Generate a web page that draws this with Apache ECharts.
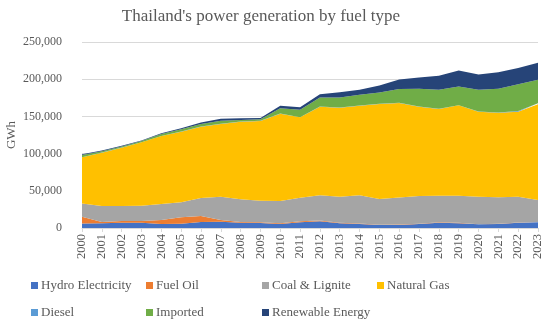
<!DOCTYPE html>
<html>
<head>
<meta charset="utf-8">
<script src="https://cdn.jsdelivr.net/npm/echarts@6/dist/echarts.min.js"></script>
<style>
html,body{margin:0;padding:0;background:#fff;}
#chart{width:550px;height:326px;}
</style>
</head>
<body>
<div id="chart"></div>
<script>
const years = ['2000','2001','2002','2003','2004','2005','2006','2007','2008','2009','2010','2011','2012','2013','2014','2015','2016','2017','2018','2019','2020','2021','2022','2023'];
const hydro     = [6000,6500,7000,7000,5400,5800,8100,8500,7200,6700,5300,7700,9000,6300,5400,4000,4200,5400,7200,6300,4900,5400,7200,7600];
const fuelOil   = [9000,1500,2400,2400,5400,8500,8000,2300,1000,900,1000,1300,1000,700,600,500,400,300,600,900,300,300,300,300];
const coal      = [18000,21600,20200,20600,21500,20200,24200,31300,30400,29100,30000,31500,33900,35100,37900,34500,36400,37300,35600,36200,36900,35500,34600,29700];
const gas       = [62000,71600,78400,85200,91300,95000,95900,97700,104300,107100,117400,108300,119100,119600,120500,127700,127000,120000,116600,121500,114200,113800,114100,128600];
const diesel    = [200,200,200,200,200,200,200,200,200,200,200,200,200,200,200,200,200,200,200,200,200,300,1000,1400];
const imported  = [2800,1600,1500,1500,2500,3000,3500,4000,2200,2300,7000,9800,12200,13500,14400,15200,18700,23800,25500,25000,29200,31800,35900,31700];
const renewable = [1200,1000,800,800,1200,1500,1900,2700,2300,1700,3300,3600,4500,7200,6700,9400,12700,15200,18800,21500,20500,22400,21900,22900];
const seriesNames = ['Hydro Electricity','Fuel Oil','Coal & Lignite','Natural Gas','Diesel','Imported','Renewable Energy'];
const seriesData = [hydro, fuelOil, coal, gas, diesel, imported, renewable];
const colors = ['#4472C4','#ED7D31','#A5A5A5','#FFC000','#5B9BD5','#70AD47','#264478'];
const yTicks = [0, 50000, 100000, 150000, 200000, 250000];

const FONT = '"Liberation Serif", serif';
const TXT = '#595959';

const chart = echarts.init(document.getElementById('chart'), null, {renderer:'canvas'});

const legendPos = [
  [31, 279], [146, 279], [262, 279], [377, 279],
  [31, 306], [146, 306], [262, 306]
];

const option = {
  animation: false,
  color: colors,
  title: {
    text: "Thailand's power generation by fuel type",
    left: 256, top: 3, textAlign: 'center',
    textStyle: {fontFamily: FONT, fontSize: 17, fontWeight: 'normal', color: TXT}
  },
  legend: seriesNames.map((n, i) => ({
    data: [n], left: legendPos[i][0], top: legendPos[i][1], padding: 0,
    icon: 'rect', itemWidth: 7, itemHeight: 7, itemGap: 0,
    textStyle: {fontFamily: FONT, fontSize: 13, color: TXT, padding: [0,0,0,-2]}
  })),
  grid: {left: 82, right: 12, top: 42, bottom: 98, containLabel: false, outerBoundsMode: 'none'},
  xAxis: {
    type: 'category', data: years, boundaryGap: false,
    axisLine: {lineStyle: {color: '#D9D9D9'}},
    axisTick: {show: true, lineStyle: {color: '#D9D9D9'}, length: 4},
    axisLabel: {rotate: 90, fontFamily: FONT, fontSize: 12.5, color: TXT, margin: 6, interval: 0}
  },
  yAxis: {
    type: 'value', min: yTicks[0], max: yTicks[yTicks.length-1], interval: 50000,
    name: 'GWh', nameLocation: 'middle', nameGap: 64, nameRotate: 90, nameMoveOverlap: false,
    nameTextStyle: {fontFamily: FONT, fontSize: 13, color: TXT},
    axisLine: {show: false}, axisTick: {show: false},
    splitLine: {lineStyle: {color: '#D9D9D9'}},
    axisLabel: {fontFamily: FONT, fontSize: 12, color: TXT, margin: 20,
      formatter: v => v.toLocaleString('en-US')}
  },
  series: seriesNames.map((n, i) => ({
    name: n, type: 'line', stack: 'total', data: seriesData[i],
    symbol: 'none', smooth: false,
    lineStyle: {width: 0}, areaStyle: {color: colors[i], opacity: 1},
    itemStyle: {color: colors[i]}
  }))
};
chart.setOption(option);
</script>
</body>
</html>
